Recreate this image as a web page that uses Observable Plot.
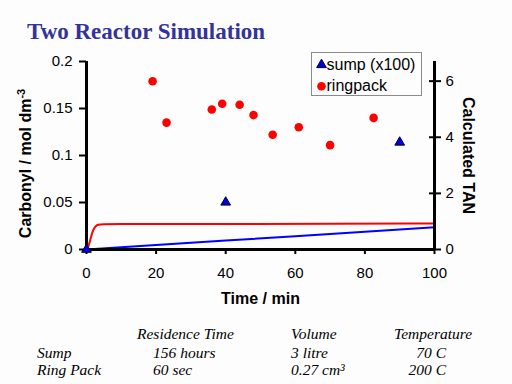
<!DOCTYPE html>
<html><head><meta charset="utf-8">
<script src="https://cdn.jsdelivr.net/npm/d3@7"></script>
<script src="https://cdn.jsdelivr.net/npm/@observablehq/plot@0.6"></script>
<style>
body{margin:0;background:#fdfdfd;}
#wrap{position:relative;width:512px;height:384px;background:#fdfdfd;overflow:hidden;}
#title{position:absolute;left:27px;top:20px;font:bold 23px/23px "Liberation Serif","Times New Roman",serif;color:#333399;white-space:nowrap;}
#chart{position:absolute;left:0;top:48px;}
#legendbox{position:absolute;left:311px;top:52px;width:109px;height:42px;border:1px solid #8a8a8a;}
.cell{position:absolute;font:italic 15.5px/16px "Liberation Serif","Times New Roman",serif;color:#000;white-space:nowrap;}
</style></head><body>
<div id="wrap"><div id="title">Two Reactor Simulation</div><div id="legendbox"></div><div id="chart"></div></div>
<script>
// ---- data ----
const ringTimes = [19, 23, 36, 39, 44, 48, 53.5, 61, 70, 82.5];
const ringValues = [0.179, 0.135, 0.149, 0.155, 0.154, 0.143, 0.122, 0.130, 0.111, 0.140];
const sumpTimes = [0, 40, 90];
const sumpValues = [0, 0.0502, 0.114];
const ringSimTimes = [0, 0.5, 1, 1.5, 2, 2.5, 3, 4, 5, 10, 40, 100];
const ringSimValues = [0, 0.003, 0.009, 0.016, 0.021, 0.024, 0.0258, 0.0266, 0.0268, 0.027, 0.0272, 0.0276];
const sumpSimTimes = [0, 20, 40, 60, 80, 100];
const sumpSimValues = [0, 0.0047, 0.0095, 0.0142, 0.019, 0.0237];
const xTicks = [0, 20, 40, 60, 80, 100];
const yTicks = [0, 0.05, 0.1, 0.15, 0.2];
const tanTicks = [0, 2, 4, 6];
const tanPerCarbonyl = 33.5;
const legendLabels = ["sump (x100)", "ringpack"];
const tableHeaders = ["Residence Time", "Volume", "Temperature"];
const tableRowNames = ["Sump", "Ring Pack"];
const residenceTimes = ["156 hours", "60 sec"];
const volumes = ["3 litre", "0.27 cm³"];
const temperatures = ["70 C", "200 C"];

// ---- build ----
const zip = (xs, ys) => xs.map((t, i) => ({t, v: ys[i]}));
const ringPts = zip(ringTimes, ringValues);
const sumpPts = zip(sumpTimes, sumpValues);
const ringSim = zip(ringSimTimes, ringSimValues);
const sumpSim = zip(sumpSimTimes, sumpSimValues);

const RED = "#ff0000", BLUE = "#0000ff", TRI = "#0000dd";
const font = '"Liberation Sans", Arial, sans-serif';
const legendSymbols = [{symbol: "triangle", fill: TRI, stroke: "#000033", r: 3.6}, {symbol: "circle", fill: RED, stroke: "none", r: 4.3}];

const legendMarks = legendLabels.flatMap((label, i) => [
  Plot.dot([label], {frameAnchor: "top-left", dx: 235, dy: 3.3 + i * 21.4, symbol: legendSymbols[i].symbol, r: legendSymbols[i].r, fill: legendSymbols[i].fill, stroke: legendSymbols[i].stroke, strokeWidth: 1}),
  Plot.text([label], {frameAnchor: "top-left", dx: 240, dy: 3.3 + i * 21.4, text: d => d, textAnchor: "start", lineAnchor: "middle", fontSize: 16})
]);

const chart = Plot.plot({
  width: 512, height: 265,
  marginTop: 13, marginBottom: 64, marginLeft: 86, marginRight: 78,
  style: {fontFamily: font, fontSize: "15px", color: "#000", background: "transparent", overflow: "visible"},
  x: {domain: [0, 100]},
  y: {domain: [0, 0.2]},
  marks: [
    Plot.line(ringSim, {x: "t", y: "v", stroke: RED, strokeWidth: 2, curve: "monotone-x"}),
    Plot.line(sumpSim, {x: "t", y: "v", stroke: BLUE, strokeWidth: 2}),
    Plot.axisX(xTicks, {tickSize: 5, tickPadding: 13, strokeWidth: 2, label: null}),
    Plot.axisY(yTicks, {tickSize: 7, tickPadding: 7, strokeWidth: 2, tickFormat: d => String(d), label: null}),
    Plot.axisY(tanTicks.map(v => v / tanPerCarbonyl), {anchor: "right", tickSize: 12, insetRight: 6, tickPadding: 5, strokeWidth: 2, tickFormat: d => String(Math.round(d * tanPerCarbonyl)), label: null}),
    Plot.ruleY([0], {stroke: "#000", strokeWidth: 3}),
    Plot.ruleX([0], {stroke: "#000", strokeWidth: 3}),
    Plot.ruleX([100], {stroke: "#000", strokeWidth: 3}),
    Plot.dot(ringPts, {x: "t", y: "v", r: 4.3, fill: RED}),
    Plot.dot(sumpPts, {x: "t", y: "v", symbol: "triangle", r: 3.6, fill: TRI, stroke: "#000033", strokeWidth: 1}),
    Plot.text(["Carbonyl / mol dm"], {frameAnchor: "left", textAnchor: "middle", lineAnchor: "middle", rotate: -90, dx: -61, dy: 8, text: d => d, fontWeight: "bold", fontSize: 16}),
    Plot.text(["Calculated TAN"], {frameAnchor: "right", textAnchor: "middle", lineAnchor: "middle", rotate: 90, dx: 34, text: d => d, fontWeight: "bold", fontSize: 16}),
    Plot.text(["Time / min"], {frameAnchor: "bottom", dy: 54, lineAnchor: "bottom", text: d => d, fontWeight: "bold", fontSize: 16}),
    ...legendMarks
  ]
});

// superscript on the y title
d3.select(chart).selectAll("text").filter(function() { return this.textContent === "Carbonyl / mol dm"; })
  .append("tspan").attr("dy", "-0.5em").attr("font-size", "11px").text("-3");

document.getElementById("chart").appendChild(chart);

// ---- parameter table ----
const wrap = document.getElementById("wrap");
function cell(text, left, baseline, right) {
  const d = document.createElement("div");
  d.className = "cell";
  d.textContent = text;
  d.style.top = (baseline - 13.2) + "px";
  if (right) { d.style.right = (512 - left) + "px"; } else { d.style.left = left + "px"; }
  wrap.appendChild(d);
}
const headerX = [137, 291, 394];
tableHeaders.forEach((h, i) => cell(h, headerX[i], 339));
tableRowNames.forEach((name, r) => {
  const base = [358, 375.5][r];
  cell(name, 37, base);
  cell(residenceTimes[r], 153, base);
  cell(volumes[r], 291, base);
  cell(temperatures[r], 446, base, true);
});
</script>
</body></html>
